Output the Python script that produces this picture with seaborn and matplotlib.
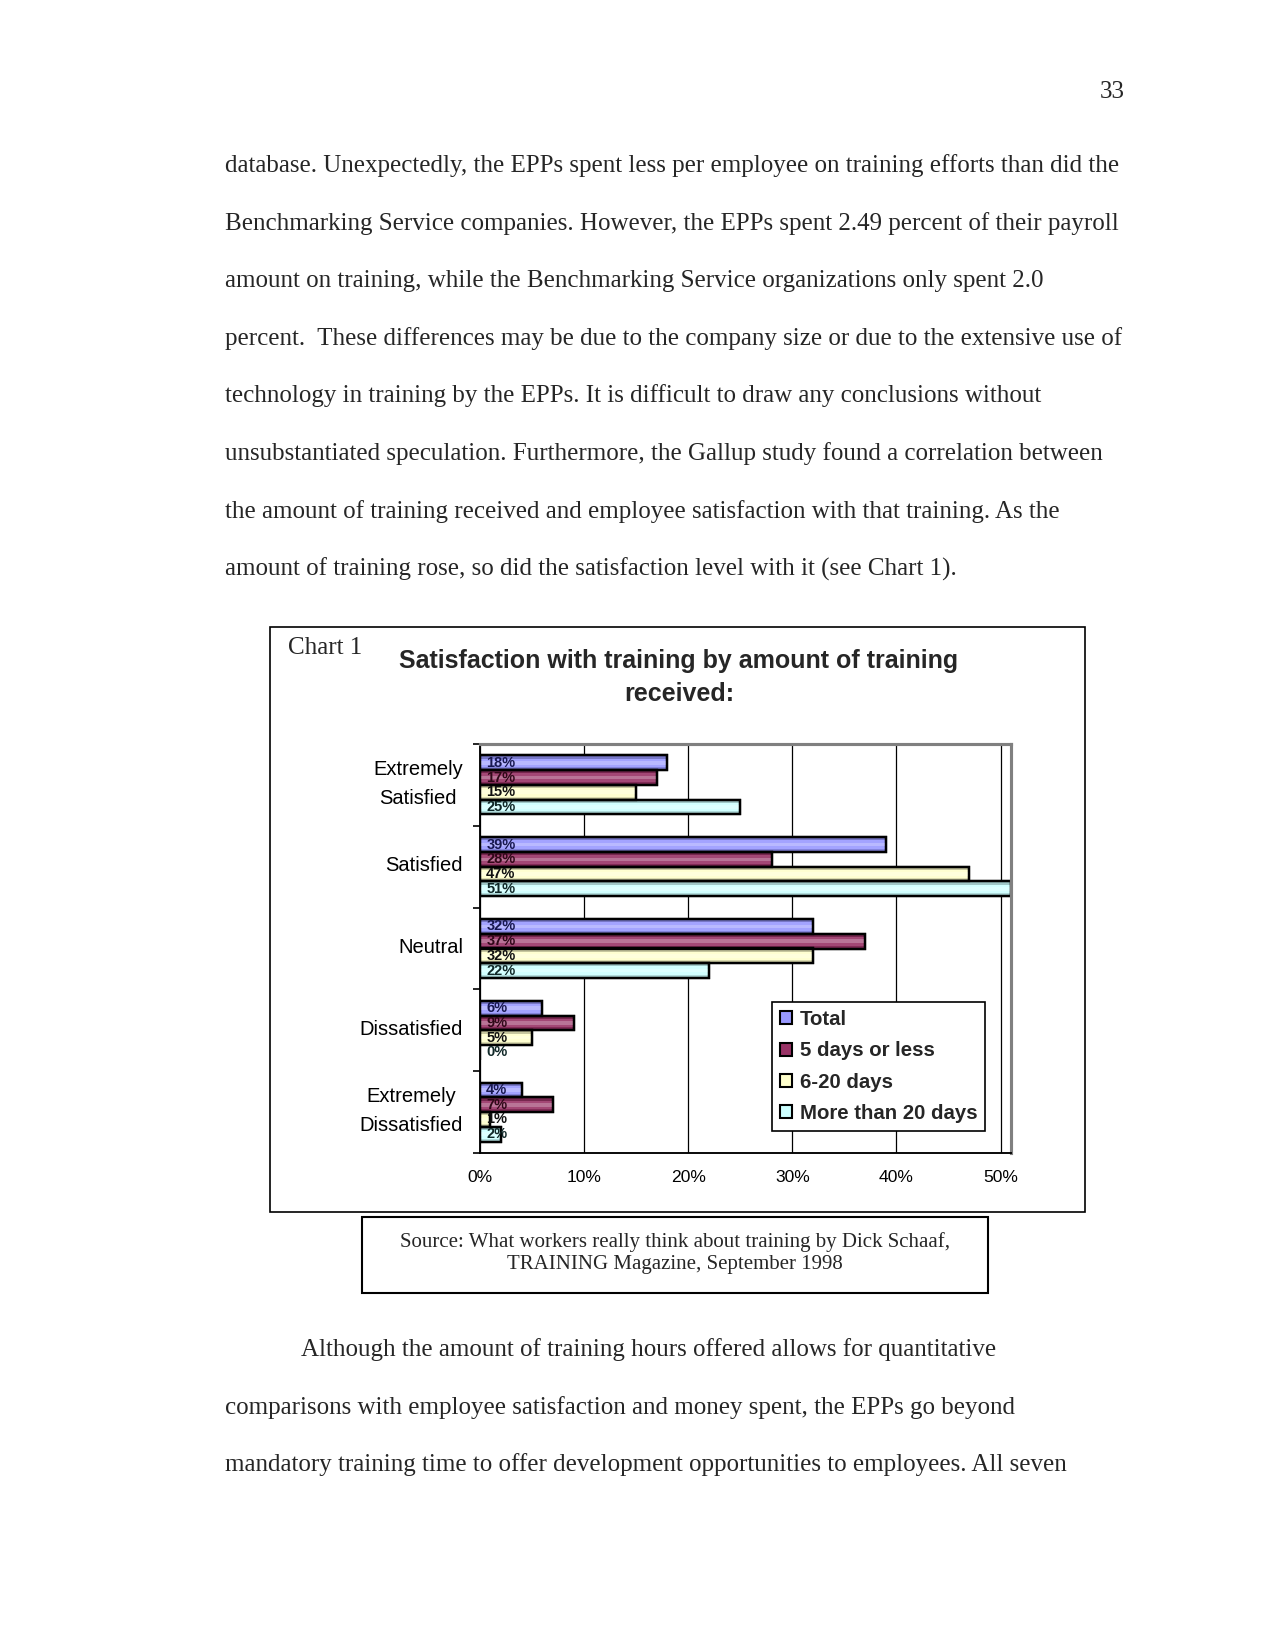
import numpy as np
import pandas as pd
import matplotlib
matplotlib.use("Agg")
import matplotlib.pyplot as plt
import seaborn as sns
from matplotlib.patches import Rectangle
from matplotlib.ticker import FixedLocator
from matplotlib.transforms import ScaledTranslation

# ---------------- data ----------------
categories = ["Extremely Satisfied", "Satisfied", "Neutral", "Dissatisfied",
              "Extremely Dissatisfied"]
category_labels = ["Extremely\nSatisfied", "Satisfied", "Neutral", "Dissatisfied",
                   "Extremely\nDissatisfied"]
series_names = ["Total", "5 days or less", "6-20 days", "More than 20 days"]
total = [18, 39, 32, 6, 4]
five_days_or_less = [17, 28, 37, 9, 7]
six_to_twenty_days = [15, 47, 32, 5, 1]
more_than_twenty_days = [25, 51, 22, 0, 2]
x_ticks = [0, 10, 20, 30, 40, 50]
x_tick_labels = ["0%", "10%", "20%", "30%", "40%", "50%"]

palette = ["#9999FF", "#993366", "#FFFFCC", "#CCFFFF"]
label_colors = ["#181850", "#300818", "#111111", "#102828"]

paragraph_top = [
    "database. Unexpectedly, the EPPs spent less per employee on training efforts than did the",
    "Benchmarking Service companies. However, the EPPs spent 2.49 percent of their payroll",
    "amount on training, while the Benchmarking Service organizations only spent 2.0",
    "percent.  These differences may be due to the company size or due to the extensive use of",
    "technology in training by the EPPs. It is difficult to draw any conclusions without",
    "unsubstantiated speculation. Furthermore, the Gallup study found a correlation between",
    "the amount of training received and employee satisfaction with that training. As the",
    "amount of training rose, so did the satisfaction level with it (see Chart 1).",
]
paragraph_bottom = [
    "Although the amount of training hours offered allows for quantitative",
    "comparisons with employee satisfaction and money spent, the EPPs go beyond",
    "mandatory training time to offer development opportunities to employees. All seven",
]
page_number = "33"
chart_label = "Chart 1"
chart_title = ["Satisfaction with training by amount of training", "received:"]
source_lines = ["Source: What workers really think about training by Dick Schaaf,",
                "TRAINING Magazine, September 1998"]

series_values = [total, five_days_or_less, six_to_twenty_days, more_than_twenty_days]
df = pd.DataFrame({
    "category": categories * len(series_names),
    "series": [s for s in series_names for _ in categories],
    "value": [v for vals in series_values for v in vals],
})

# ---------------- style ----------------
sns.set_style("white")
plt.rcParams["font.family"] = ["Liberation Sans", "DejaVu Sans"]
SERIF = ["Liberation Serif", "DejaVu Serif"]

W, H = 1275, 1650
fig = plt.figure(figsize=(8.5, 11), dpi=150)


def fx(px):
    return px / W


def fy(py):
    return 1 - py / H


# ---------------- page text ----------------
fig.text(fx(1125), fy(98), page_number, ha="right", va="baseline",
         fontsize=12, family=SERIF)
base = 172
for i, line in enumerate(paragraph_top):
    fig.text(fx(225), fy(base + i * 57.6), line, ha="left", va="baseline",
             fontsize=12, family=SERIF)
base2 = 1356
for i, line in enumerate(paragraph_bottom):
    x0 = 301 if i == 0 else 225
    fig.text(fx(x0), fy(base2 + i * 57.6), line, ha="left", va="baseline",
             fontsize=12, family=SERIF)

# ---------------- chart frame ----------------
fig.patches.append(Rectangle((fx(270), fy(1212)), fx(1085 - 270), (1212 - 627) / H,
                             transform=fig.transFigure, fill=False,
                             edgecolor="black", linewidth=0.8))
fig.text(fx(288), fy(648), chart_label, ha="left", va="center",
         fontsize=12, family=SERIF)
fig.text(fx(679), fy(661), chart_title[0], ha="center", va="center",
         fontsize=12, fontweight="bold")
fig.text(fx(679), fy(694), chart_title[1], ha="center", va="center",
         fontsize=12, fontweight="bold")

# ---------------- bar chart ----------------
ax = fig.add_axes([fx(480), fy(1153), fx(1011 - 480), (1153 - 744) / H])
sns.barplot(data=df, y="category", x="value", hue="series", order=categories,
            hue_order=series_names, palette=palette, saturation=1, orient="h",
            width=0.72, edgecolor="black", linewidth=1.1, ax=ax)

# cylinder-like shading on every bar (derived from the drawn patches)
for container in ax.containers:
    for patch in container.patches:
        x0, y0 = patch.get_x(), patch.get_y()
        w, h = patch.get_width(), patch.get_height()
        if w <= 0:
            continue
        bands = [(0.00, 0.22, "black", 0.22), (0.22, 0.38, "white", 0.10),
                 (0.38, 0.62, "white", 0.32), (0.62, 0.80, "white", 0.10),
                 (0.80, 1.00, "black", 0.14)]
        for a, b, c, al in bands:
            ax.add_patch(Rectangle((x0, y0 + a * h), w, (b - a) * h,
                                   facecolor=c, alpha=al, edgecolor="none",
                                   zorder=patch.get_zorder() + 0.1))
        ax.add_patch(Rectangle((x0, y0), w, h, fill=False, edgecolor="black",
                               linewidth=1.1, zorder=patch.get_zorder() + 0.2))

for container, col in zip(ax.containers, label_colors):
    for patch, v in zip(container.patches, container.datavalues):
        ax.annotate(f"{int(round(v))}%",
                    xy=(0, patch.get_y() + patch.get_height() / 2),
                    xytext=(3, 0), textcoords="offset points",
                    ha="left", va="center", fontsize=7, fontweight="bold",
                    color=col, zorder=6)

ax.set_xlim(0, 51)
ax.set_ylim(4.5, -0.5)
ax.set_xticks(x_ticks)
ax.set_xticklabels(x_tick_labels)
ax.set_yticks(range(len(categories)))
ax.set_yticklabels([])
# category labels as text anchored to the category positions
label_offset = ScaledTranslation(-17 / 150, 1.0 / 150, fig.dpi_scale_trans)
for i, lab in enumerate(category_labels):
    ax.text(0, i, lab, transform=ax.get_yaxis_transform() + label_offset,
            ha="right", va="center", multialignment="center", linespacing=1.62,
            fontsize=9.7, color="black")
ax.set_xlabel("")
ax.set_ylabel("")
ax.tick_params(axis="x", length=0, pad=8, labelsize=8.4, colors="black")
ax.tick_params(axis="y", which="major", length=0)
ax.yaxis.set_minor_locator(FixedLocator(np.arange(-0.5, len(categories), 1.0)))
ax.tick_params(axis="y", which="minor", length=3.5, width=0.8, direction="out",
               color="black", left=True)
ax.xaxis.grid(True, color="black", linewidth=0.6)
ax.set_axisbelow(True)
for side in ["top", "right"]:
    ax.spines[side].set_color("#808080")
    ax.spines[side].set_linewidth(1.5)
for side in ["left", "bottom"]:
    ax.spines[side].set_color("black")
    ax.spines[side].set_linewidth(0.9)

old = ax.get_legend()
handles = list(old.legend_handles)
labels = [t.get_text() for t in old.get_texts()]
old.remove()
for h in handles:
    h.set_edgecolor("black")
    h.set_linewidth(1.0)
leg = ax.legend(handles, labels, loc="upper left",
                bbox_to_anchor=(fx(772), fy(1002)), bbox_transform=fig.transFigure,
                frameon=True, fancybox=False, shadow=False, framealpha=1,
                edgecolor="black", borderpad=0.4, labelspacing=0.6,
                handlelength=0.6, handleheight=0.6, handletextpad=0.35,
                borderaxespad=0,
                prop={"weight": "bold", "size": 9.8})
leg.get_frame().set_linewidth(0.8)

# ---------------- source box ----------------
fig.patches.append(Rectangle((fx(362), fy(1293)), fx(988 - 362), (1293 - 1217) / H,
                             transform=fig.transFigure, fill=False,
                             edgecolor="black", linewidth=1.0))
fig.text(fx(675), fy(1242), source_lines[0], ha="center", va="center",
         fontsize=10, family=SERIF)
fig.text(fx(675), fy(1265), source_lines[1], ha="center", va="center",
         fontsize=10, family=SERIF)

fig.savefig("out.png", dpi=150, facecolor="white")
